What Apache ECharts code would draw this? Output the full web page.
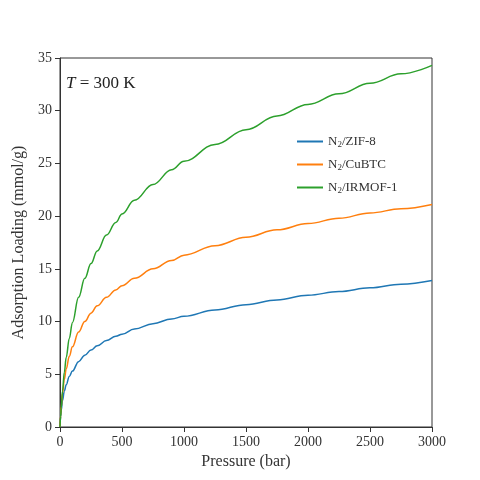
<!DOCTYPE html>
<html><head><meta charset="utf-8">
<script src="https://cdn.jsdelivr.net/npm/echarts@6/dist/echarts.min.js"></script>
<style>html,body{margin:0;padding:0;background:#fff}#c{width:480px;height:480px}</style>
</head><body><div id="c"></div>
<script>
const pressure = [0, 5, 10, 20, 35, 50, 75, 100, 150, 200, 250, 300, 375, 450, 500, 600, 750, 900, 1000, 1250, 1500, 1750, 2000, 2250, 2500, 2750, 3000];
const zif8   = [0, 1.0, 1.6, 2.5, 3.4, 4.0, 4.8, 5.3, 6.2, 6.8, 7.3, 7.7, 8.2, 8.6, 8.8, 9.3, 9.8, 10.25, 10.5, 11.1, 11.6, 12.05, 12.5, 12.85, 13.2, 13.55, 13.9];
const cubtc  = [0, 1.1, 1.9, 3.2, 4.5, 5.5, 6.7, 7.6, 9.0, 10.0, 10.8, 11.5, 12.3, 13.0, 13.4, 14.1, 15.0, 15.8, 16.3, 17.2, 18.0, 18.7, 19.3, 19.8, 20.3, 20.7, 21.1];
const irmof1 = [0, 1.0, 1.8, 3.4, 5.2, 6.6, 8.4, 9.9, 12.3, 14.1, 15.5, 16.7, 18.2, 19.4, 20.2, 21.5, 23.0, 24.4, 25.2, 26.8, 28.2, 29.5, 30.6, 31.6, 32.6, 33.5, 34.3];
const names = ['N2/ZIF-8', 'N2/CuBTC', 'N2/IRMOF-1'];
const colors = ['#1f77b4', '#ff7f0e', '#2ca02c'];
const F = 'Liberation Serif';
const chart = echarts.init(document.getElementById('c'));
const mk = (n, d, i) => ({ name: n, type: 'line', data: pressure.map((p, k) => [p, d[k]]), smooth: 0.4, smoothMonotone: 'x', showSymbol: false, lineStyle: { color: colors[i], width: 1.5 }, itemStyle: { color: colors[i] } });
chart.setOption({
  animation: false,
  grid: { left: 60, right: 48, top: 58, bottom: 53 },
  xAxis: { type: 'value', min: 0, max: 3000, interval: 500, name: 'Pressure (bar)', nameLocation: 'middle', nameGap: 25,
    nameTextStyle: { fontFamily: F, fontSize: 16, color: '#333' },
    axisLine: { onZero: false, lineStyle: { color: '#333' } }, axisTick: { lineStyle: { color: '#333' } },
    axisLabel: { fontFamily: F, fontSize: 14, color: '#333', formatter: v => String(v) }, splitLine: { show: false } },
  yAxis: { type: 'value', min: 0, max: 35, interval: 5, name: 'Adsorption Loading (mmol/g)', nameLocation: 'middle', nameGap: 30,
    nameTextStyle: { fontFamily: F, fontSize: 16, color: '#333' },
    axisLine: { show: true, lineStyle: { color: '#333' } }, axisTick: { show: true, lineStyle: { color: '#333' } },
    axisLabel: { fontFamily: F, fontSize: 14, color: '#333', formatter: v => String(v) }, splitLine: { show: false } },
  legend: { orient: 'vertical', left: 292, top: 130, itemWidth: 26, itemHeight: 2, itemGap: 9, icon: 'rect',
    formatter: n => '{a|N}{s|2}{a|' + n.slice(2) + '}',
    textStyle: { rich: { a: { fontFamily: F, fontSize: 13, color: '#333' }, s: { fontFamily: F, fontSize: 9, color: '#333', verticalAlign: 'bottom', padding: [6, 0, 0, 0] } } } },
  graphic: [
    { type: 'rect', shape: { x: 60, y: 58, width: 372, height: 369 }, style: { fill: 'none', stroke: '#333', lineWidth: 1 }, silent: true, z: -1 },
    { type: 'text', left: 66, top: 75, style: { rich: { i: { fontFamily: F, fontStyle: 'italic', fontSize: 17, fill: '#222' }, r: { fontFamily: F, fontSize: 17, fill: '#222' } }, text: '{i|T}{r| = 300 K}' } }
  ],
  series: [mk(names[0], zif8, 0), mk(names[1], cubtc, 1), mk(names[2], irmof1, 2)]
});
</script></body></html>
